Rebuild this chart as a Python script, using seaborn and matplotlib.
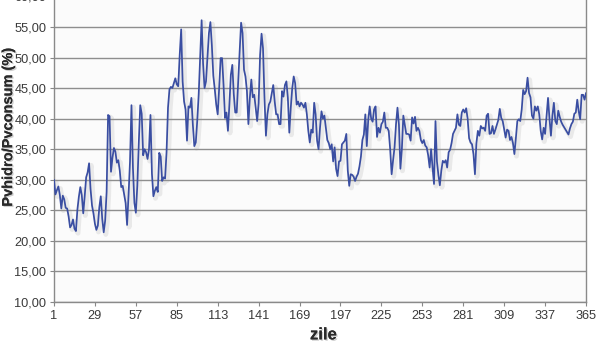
import numpy as np
import pandas as pd
import matplotlib
matplotlib.use("Agg")
import matplotlib.pyplot as plt
import matplotlib.patheffects as pe
from matplotlib import font_manager
import seaborn as sns

# ---- data -------------------------------------------------------------
seg_001_078 = [30.0, 27.6, 28.3, 28.9, 27.5, 25.3, 27.4, 26.8, 25.4, 25.3,
               24.0, 22.2, 22.6, 23.5, 22.0, 21.6, 25.1, 27.2, 28.8, 27.5,
               24.5, 27.3, 30.4, 31.2, 32.7, 28.5, 25.8, 24.5, 22.8, 21.8,
               22.5, 25.5, 27.3, 23.6, 21.4, 23.3, 28.0, 40.6, 40.4, 31.3,
               33.6, 35.2, 34.6, 32.8, 33.2, 31.5, 28.8, 29.0, 27.6, 26.2,
               22.6, 27.5, 33.0, 42.2, 32.0, 26.2, 24.6, 29.0, 36.0, 42.2,
               40.8, 34.0, 35.0, 34.5, 33.4, 35.0, 40.6, 31.0, 27.3, 28.2,
               28.8, 28.0, 34.4, 33.8, 29.8, 30.4, 30.2, 34.5]
seg_079_174 = [41.8, 44.8, 45.2, 45.0, 45.8, 46.6, 45.6, 45.3, 50.4, 54.6,
               46.1, 42.8, 41.5, 36.4, 42.0, 41.8, 43.4, 39.0, 35.5, 36.1,
               39.6, 44.0, 50.0, 56.1, 49.0, 45.0, 46.1, 50.0, 54.0, 55.8,
               52.0, 47.0, 44.8, 42.3, 40.7, 45.0, 49.9, 49.9, 45.5, 40.1,
               41.0, 38.0, 42.3, 47.2, 48.8, 44.0, 41.0, 41.0, 46.1, 50.9,
               55.7, 54.0, 48.0, 46.9, 44.5, 39.1, 43.4, 46.4, 43.5, 43.9,
               41.8, 39.6, 42.5, 50.4, 53.9, 51.5, 43.4, 37.2, 40.7, 42.3,
               42.8, 44.2, 45.5, 42.8, 40.7, 40.7, 39.1, 39.1, 44.5, 43.6,
               45.5, 46.1, 43.4, 37.7, 41.8, 45.0, 46.9, 45.8, 42.3, 42.8,
               42.0, 42.6, 42.3, 41.8, 42.6, 40.7]
seg_175_245 = [38.0, 36.1, 38.2, 37.7, 42.6, 40.7, 36.4, 35.0, 38.5, 41.2,
               40.0, 40.5, 38.5, 36.5, 36.0, 35.0, 35.8, 33.0, 35.3, 31.8,
               30.6, 33.0, 33.1, 35.8, 36.1, 36.4, 37.5, 31.5, 29.0, 30.9,
               30.8, 30.5, 29.8, 30.5, 31.0, 32.2, 33.8, 36.5, 37.4, 40.7,
               35.5, 39.8, 42.0, 40.0, 39.5, 41.5, 42.0, 37.0, 38.5, 37.7,
               39.1, 39.5, 41.0, 38.5, 38.5, 38.0, 35.0, 30.9, 33.2, 35.3,
               39.1, 41.8, 39.0, 31.8, 35.0, 40.5, 39.0, 37.5, 37.5, 37.4,
               36.4]
seg_246_306 = [40.2, 39.2, 40.3, 38.0, 38.5, 38.0, 36.5, 36.0, 36.5, 35.6,
               35.3, 34.0, 32.0, 35.0, 32.0, 29.3, 39.6, 33.0, 30.8, 29.1,
               31.5, 33.1, 32.8, 33.2, 32.0, 34.5, 34.9, 36.0, 37.5, 38.0,
               38.5, 40.7, 39.0, 38.8, 41.0, 41.5, 41.0, 41.7, 40.0, 36.8,
               36.1, 35.8, 34.2, 30.9, 36.0, 38.0, 37.2, 38.8, 38.4, 38.5,
               38.0, 40.5, 40.8, 37.5, 37.6, 38.8, 37.5, 38.2, 39.0, 39.8,
               41.6]
seg_307_365 = [40.1, 39.6, 38.2, 36.9, 38.2, 38.0, 36.5, 37.0, 36.0, 34.2,
               36.8, 39.6, 39.9, 39.6, 41.5, 44.7, 44.0, 44.5, 46.7, 44.2,
               43.5, 40.5, 40.0, 42.0, 41.3, 42.0, 40.7, 38.0, 36.6, 38.5,
               37.5, 40.5, 43.4, 40.0, 37.2, 40.5, 42.6, 39.6, 39.1, 41.3,
               40.3, 39.5, 39.0, 38.6, 38.2, 37.8, 37.4, 38.4, 39.1, 39.5,
               40.8, 41.0, 43.1, 41.2, 39.9, 43.9, 43.9, 43.1, 44.2]

ratio = seg_001_078 + seg_079_174 + seg_175_245 + seg_246_306 + seg_307_365
days = list(range(1, len(ratio) + 1))
x_ticks = [1, 29, 57, 85, 113, 141, 169, 197, 225, 253, 281, 309, 337, 365]
y_ticks = [10, 15, 20, 25, 30, 35, 40, 45, 50, 55, 60]
x_label = "zile"
y_label = "Pvhidro/Pvconsum (%)"

df = pd.DataFrame({"zi": days, "ratio": ratio})

# ---- style ------------------------------------------------------------
sns.set_theme(style="white")
names = {f.name for f in font_manager.fontManager.ttflist}
narrow = "Liberation Sans Narrow" in names
tick_font = "Liberation Sans Narrow" if narrow else "Liberation Sans"
plt.rcParams["font.family"] = ["Liberation Sans", "DejaVu Sans"]

fig = plt.figure(figsize=(6.0, 3.54), dpi=100, facecolor="white")
ax = fig.add_axes([0.09, 0.1469, 0.8867, 0.8633])
ax.set_facecolor("#fbfbfb")

for yv in y_ticks:
    ax.axhline(yv, color="#8e8e8e", lw=1.0, zorder=1)

sns.lineplot(data=df, x="zi", y="ratio", ax=ax, color="#3a4ea2", lw=1.25,
             zorder=3,
             path_effects=[pe.SimpleLineShadow(offset=(1.5, -1.5), shadow_color="#999999",
                                               alpha=0.18, linewidth=3.5),
                           pe.Normal()])

ax.set_xlim(1, 365)
ax.set_ylim(10, 60)
ax.set_xticks(x_ticks)
ax.set_yticks(y_ticks)
ax.set_yticklabels([f"{v:.2f}".replace(".", ",") for v in y_ticks])
ax.set_xticklabels([str(v) for v in x_ticks])

for lab in ax.get_xticklabels() + ax.get_yticklabels():
    lab.set_fontfamily(tick_font)
    lab.set_fontsize(11 if narrow else 9.2)
    lab.set_color("#3a3a3a")

ax.tick_params(axis="both", which="major", direction="out", length=3, width=0.8,
               color="#888888", pad=2.5, bottom=True, left=True)

for side in ["left", "bottom", "right", "top"]:
    ax.spines[side].set_visible(True)
    ax.spines[side].set_color("#8a8a8a")
    ax.spines[side].set_linewidth(1.0)

shadow = [pe.withSimplePatchShadow(offset=(1, -1), shadow_rgbFace="#777777", alpha=0.35),
          pe.Normal()]
ax.set_xlabel(x_label, fontsize=12, fontweight="bold", color="#2a2a2a",
              path_effects=shadow)
ax.set_ylabel(y_label, fontsize=10.5, fontweight="bold", color="#2a2a2a",
              path_effects=shadow)
ax.xaxis.set_label_coords(0.506, -0.083)
ax.yaxis.set_label_coords(-0.073, 0.573)

fig.savefig("out.png", dpi=100, facecolor="white")
